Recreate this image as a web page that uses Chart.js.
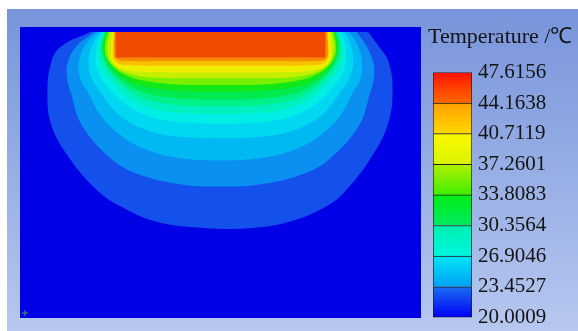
<!DOCTYPE html>
<html>
<head>
<meta charset="utf-8">
<script src="https://cdn.jsdelivr.net/npm/chart.js@4.4.1/dist/chart.umd.min.js"></script>
<style>
  body { margin: 0; background: #fff; overflow: hidden; width: 578px; height: 331px; }
  #panel { position: absolute; left: 7px; top: 9px; width: 571px; height: 322px;
    background: linear-gradient(180deg, #7894db 0%, #97aee5 50%, #b7c7ef 100%); }
  #field { position: absolute; left: 20px; top: 27px; background: #0000e6; }
  #legend { position: absolute; left: 428px; top: 20px; }
</style>
</head>
<body>
<div id="panel"></div>
<canvas id="field" width="401" height="291"></canvas>
<canvas id="legend" width="150" height="311"></canvas>
<script>
// domain of the section (x across, y depth)
let xRange = [-20.05, 20.05];
let yRange = [-29.1, 0];

// colour bar
let tickValues = [20.0009, 23.4527, 26.9046, 30.3564, 33.8083, 37.2601, 40.7119, 44.1638, 47.6156];
let tickLabels = ['20.0009', '23.4527', '26.9046', '30.3564', '33.8083', '37.2601', '40.7119', '44.1638', '47.6156'];
let titleText = 'Temperature /\u2103';

// isotherm levels (two per colour bar interval)
let isoLevels = [21.7268, 23.4527, 25.1787, 26.9046, 28.6305, 30.3564, 32.0824, 33.8083,
                 35.5342, 37.2601, 38.9860, 40.7119, 42.4379, 44.1638, 45.8897];

// isotherms, [x, y] points from the top-left round to the top-right
let iso1 = [[-13.35,0],[-16.35,-1.5],[-17.35,-3.1],[-17.75,-6.3],[-17.35,-9.6],[-15.55,-13.0],[-12.75,-16.3],[-10.35,-18.0],[-6.75,-19.6],[-1.75,-20.3],
            [3.25,-20.3],[7.25,-19.6],[10.95,-18.0],[12.95,-16.3],[15.45,-13.0],[17.15,-9.6],[17.65,-6.3],[17.25,-3.1],[16.25,-1.5],[15.15,0]];
let iso2 = [[-12.95,0],[-14.8,-1.5],[-15.7,-3.3],[-15.7,-5.0],[-15.35,-6.3],[-14.25,-9.6],[-11.35,-13.0],[-8.75,-14.6],[-4.0,-15.8],[0,-16.0],
            [4.0,-15.8],[8.75,-14.6],[11.35,-13.0],[14.25,-9.6],[15.35,-6.3],[15.7,-5.0],[15.7,-3.3],[15.0,-1.5],[13.95,0]];
let iso3 = [[-12.55,0],[-13.8,-1.2],[-14.55,-3.3],[-14.3,-5.0],[-13.55,-6.3],[-12.4,-8.5],[-10.5,-10.5],[-8.0,-12.0],[-4.5,-13.0],[0,-13.3],
            [4.5,-13.0],[8.0,-12.0],[10.5,-10.5],[12.4,-8.5],[13.55,-6.3],[14.3,-5.0],[14.55,-3.3],[14.0,-1.2],[13.15,0]];
let iso4 = [[-12.25,0],[-13.1,-1.2],[-13.55,-3.3],[-13.1,-5.0],[-12.25,-6.3],[-11.0,-8.0],[-9.6,-9.2],[-8.0,-10.0],[-6.0,-10.6],[-3.5,-10.9],[0,-11.0],
            [3.5,-10.9],[6.0,-10.6],[8.0,-10.0],[9.6,-9.2],[11.0,-8.0],[12.25,-6.3],[13.1,-5.0],[13.6,-3.3],[13.3,-1.2],[12.65,0]];
let iso5 = [[-12.1,0],[-12.6,-1.2],[-12.8,-3.0],[-12.4,-4.5],[-11.7,-5.5],[-11.05,-6.3],[-9.7,-7.5],[-8.0,-8.5],[-6.0,-9.1],[-3.5,-9.4],[0,-9.5],
            [3.5,-9.4],[6.0,-9.1],[8.0,-8.5],[9.7,-7.5],[11.05,-6.3],[11.7,-5.5],[12.4,-4.5],[12.85,-3.0],[12.75,-1.2],[12.35,0]];
let iso6 = [[-12.0,0],[-12.4,-1.2],[-12.5,-2.8],[-11.9,-4.2],[-11.0,-5.3],[-10.05,-6.3],[-8.8,-7.2],[-7.0,-7.9],[-5.0,-8.3],[0,-8.5],
            [5.0,-8.3],[7.0,-7.9],[8.8,-7.2],[10.05,-6.3],[11.0,-5.3],[11.9,-4.2],[12.55,-2.8],[12.5,-1.2],[12.15,0]];
let iso7 = [[-11.9,0],[-12.25,-1.2],[-12.2,-2.6],[-11.5,-4.0],[-10.4,-5.2],[-9.05,-6.3],[-7.5,-7.0],[-5.0,-7.5],[0,-7.7],
            [5.0,-7.5],[7.5,-7.0],[9.05,-6.3],[10.4,-5.2],[11.5,-4.0],[12.25,-2.6],[12.3,-1.2],[11.95,0]];
let iso8 = [[-11.8,0],[-12.1,-1.2],[-12.0,-2.5],[-11.2,-4.0],[-9.9,-5.2],[-8.5,-6.0],[-7.0,-6.5],[-4.5,-6.85],[0,-7.0],
            [4.5,-6.85],[7.0,-6.5],[8.5,-6.0],[9.9,-5.2],[11.2,-4.0],[12.0,-2.5],[12.1,-1.2],[11.8,0]];
let iso9 = [[-11.7,0],[-12.0,-1.2],[-11.85,-2.4],[-11.0,-3.8],[-9.7,-4.9],[-7.8,-5.65],[-4.8,-6.05],[0,-6.2],
            [4.8,-6.05],[7.8,-5.65],[9.7,-4.9],[11.0,-3.8],[11.85,-2.4],[12.0,-1.2],[11.7,0]];
let iso10 = [[-11.55,0],[-11.85,-1.4],[-11.7,-2.6],[-10.9,-3.7],[-9.5,-4.55],[-7.8,-5.05],[-5.0,-5.4],[0,-5.5],
             [5.0,-5.4],[7.8,-5.05],[9.5,-4.55],[10.9,-3.7],[11.7,-2.6],[11.85,-1.4],[11.6,0]];
let iso11 = [[-11.35,0],[-11.6,-1.4],[-11.45,-2.7],[-10.8,-3.6],[-9.6,-4.25],[-7.5,-4.65],[-4.0,-4.78],[0,-4.8],
             [4.0,-4.78],[7.5,-4.65],[9.6,-4.25],[10.8,-3.6],[11.45,-2.7],[11.65,-1.4],[11.4,0]];
let iso12 = [[-11.1,0],[-11.25,-2.0],[-11.2,-2.8],[-10.7,-3.5],[-9.5,-3.95],[-7.0,-4.15],[0,-4.2],
             [7.0,-4.15],[9.5,-3.95],[10.75,-3.5],[11.3,-2.8],[11.35,-2.0],[11.2,0]];
let iso13 = [[-10.95,0],[-11.05,-2.0],[-11.0,-2.7],[-10.6,-3.2],[-9.6,-3.43],[-5.0,-3.5],[0,-3.5],
             [5.0,-3.5],[9.6,-3.43],[10.65,-3.2],[11.05,-2.7],[11.1,-2.0],[11.0,0]];
let iso14 = [[-10.85,0],[-10.9,-2.2],[-10.6,-2.85],[-9.8,-3.0],[-5.0,-3.0],[0,-3.0],
             [5.0,-3.0],[9.8,-3.0],[10.7,-2.85],[11.0,-2.2],[10.9,0]];
let iso15 = [[-10.75,0],[-10.75,-2.65],[10.75,-2.65],[10.75,0]];

let isotherms = [iso1, iso2, iso3, iso4, iso5, iso6, iso7, iso8, iso9, iso10, iso11, iso12, iso13, iso14, iso15];

// fill colour above each isotherm
let bandColors = ['#1450eb', '#0a90f0', '#00b8f2', '#00d8f2', '#00eee6', '#00f0c0', '#00f08a', '#00ea50',
                  '#10e818', '#78f000', '#c4f000', '#f0ee00', '#f8c000', '#f88c00', '#f04b00'];
// colour bar segments, bottom and top colour
let segBottom = ['#0000f5', '#00a0f5', '#00f5e0', '#00ea60', '#40ee00', '#d8f400', '#ffd800', '#ff6a00'];
let segTop    = ['#1a6ef2', '#00e6f5', '#00f0b0', '#00ee14', '#b0f000', '#fcf800', '#ffa000', '#ff1000'];

// Field
let fieldSets = [];
for (let i = isotherms.length - 1; i >= 0; i--) {
    fieldSets.push({
        label: isoLevels[i] + '',
        data: isotherms[i].map(p => ({x: p[0], y: p[1]})),
        showLine: true,
        fill: 'shape',
        backgroundColor: bandColors[i],
        borderColor: 'rgba(0,0,0,0)',
        borderWidth: 0,
        pointRadius: 0,
        tension: i === 14 ? 0 : 0.4
    });
}
// little axis marker in the corner
fieldSets.unshift({
    data: [{x: xRange[0], y: yRange[0]}],
    pointStyle: 'cross',
    pointRadius: 3,
    borderColor: '#4a9a48',
    borderWidth: 1,
    clip: false
});

let chartField = new Chart(document.getElementById('field'), {
    type: 'scatter',
    data: { datasets: fieldSets },
    options: {
        responsive: false,
        animation: false,
        events: [],
        layout: { padding: 0 },
        scales: {
            x: { type: 'linear', min: xRange[0], max: xRange[1], display: false },
            y: { type: 'linear', min: yRange[0], max: yRange[1], display: false }
        },
        plugins: { legend: { display: false }, tooltip: { enabled: false } }
    }
});

// Colour bar
function segFill(ctx, i) {
    let chart = ctx.chart;
    let ys = chart.scales.y;
    if (!chart.chartArea || !ys) return segBottom[i];
    let g = chart.ctx.createLinearGradient(0, ys.getPixelForValue(tickValues[i]), 0, ys.getPixelForValue(tickValues[i + 1]));
    g.addColorStop(0, segBottom[i]);
    g.addColorStop(1, segTop[i]);
    return g;
}

let legendSets = segBottom.map((c, i) => ({
    data: [[tickValues[i], tickValues[i + 1]]],
    yAxisID: 'y',
    backgroundColor: ctx => segFill(ctx, i),
    borderColor: '#1e1e1e',
    borderWidth: i === 0 ? 1 : { top: 1, left: 1, right: 1, bottom: 0 },
    borderSkipped: false,
    grouped: false,
    barPercentage: 1,
    categoryPercentage: 1
}));

let legendEl = document.getElementById('legend');
legendEl.height = 316;

let chartLegend = new Chart(legendEl, {
    type: 'bar',
    data: { labels: [''], datasets: legendSets },
    options: {
        responsive: false,
        animation: false,
        events: [],
        layout: { padding: 0 },
        scales: {
            x: { display: false },
            y: {
                position: 'right',
                min: tickValues[0],
                max: tickValues[tickValues.length - 1],
                afterBuildTicks: axis => { axis.ticks = tickValues.map(v => ({ value: v })); },
                afterFit: s => { s.width = 106; },
                grid: { display: false, drawTicks: false },
                border: { display: false },
                ticks: {
                    autoSkip: false,
                    padding: 6,
                    color: '#141414',
                    font: { family: 'Liberation Serif', size: 21 },
                    callback: (v, i) => tickLabels[i]
                }
            },
            yl: {
                position: 'left',
                grid: { display: false, drawTicks: false },
                border: { display: false },
                ticks: { display: false },
                afterFit: s => { s.width = 5; }
            }
        },
        plugins: {
            legend: { display: false },
            tooltip: { enabled: false },
            title: {
                display: true,
                text: titleText,
                align: 'start',
                color: '#141414',
                font: { family: 'Liberation Serif', size: 22, weight: 'normal' },
                padding: { top: 4, bottom: 22 }
            }
        }
    }
});
</script>
</body>
</html>
